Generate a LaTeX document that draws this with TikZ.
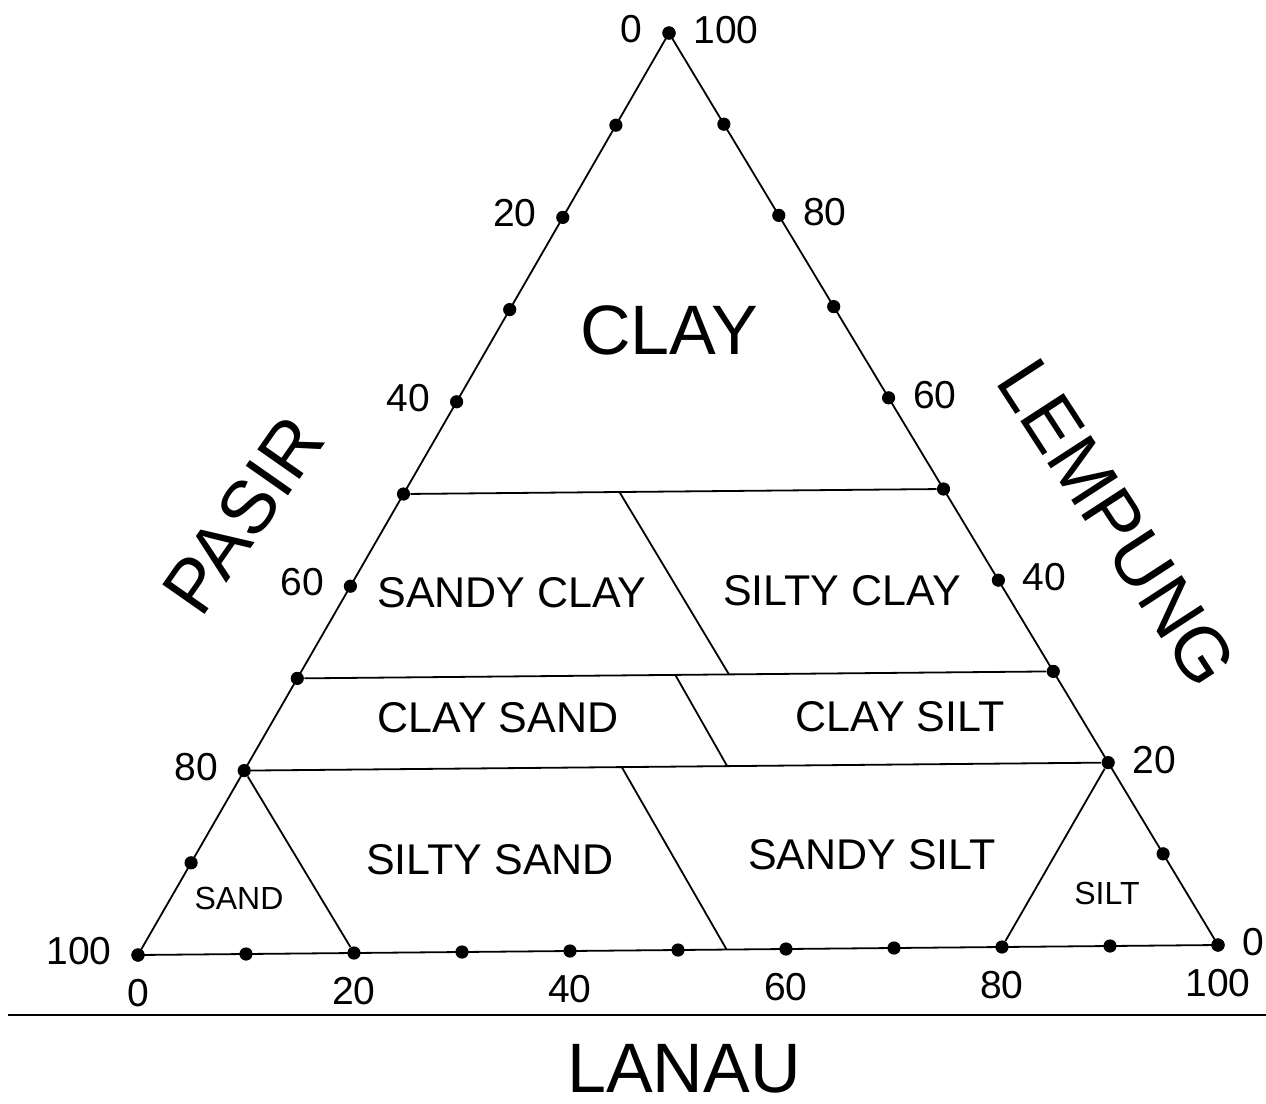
\documentclass[tikz,border=0pt]{standalone}
\usepackage{fontspec}
\setmainfont{Liberation Sans}
\usetikzlibrary{calc, positioning}

\begin{document}
\begin{tikzpicture}[x=0.5pt, y=-0.5pt,
		edge/.style={line width=0.9pt},
		dot/.style={circle, fill=black, inner sep=0pt, minimum size=6.6pt},
		tick/.style={inner sep=0pt, font=\fontsize{19.5}{22}\selectfont},
		zone/.style={inner sep=0pt, font=\fontsize{21.5}{24}\selectfont},
		small/.style={inner sep=0pt, font=\fontsize{16}{18}\selectfont},
		big/.style={inner sep=0pt, font=\fontsize{35}{40}\selectfont},
		axis/.style={inner sep=0pt, font=\fontsize{37.5}{42}\selectfont}]
	\useasboundingbox (0,0) rectangle (1266,1104);
	% corners of the triangle
	\coordinate (T) at (669,33);
	\coordinate (L) at (138,955);
	\coordinate (R) at (1218,945);
	\draw[edge] (T) -- (L) -- (R) -- cycle;
	% dots on the three sides
	\foreach \i in {0,...,10}{
		\node[dot] (a\i) at ($(T)!\i/10!(L)$) {};
		\node[dot] (b\i) at ($(T)!\i/10!(R)$) {};
		\node[dot] (c\i) at ($(L)!\i/10!(R)$) {};
	}
	% scale numbers
	\foreach \i/\lab in {0/0, 2/20, 4/40, 6/60, 8/80, 10/100}{
		\node[tick, left=9.5pt of a\i, yshift=2pt] (la\i) {\lab};
		\node[tick, below=8.5pt of c\i] (lc\i) {\lab};
	}
	\foreach \i/\lab in {0/100, 2/80, 4/60, 6/40, 8/20, 10/0}{
		\node[tick, right=8.5pt of b\i, yshift=1.5pt] (lb\i) {\lab};
	}
	% class boundaries
	\foreach \i in {5,7,8}{\draw[edge] (a\i) -- (b\i);}
	\coordinate (s1) at ($(a5)!0.40!(b5)$);
	\coordinate (s2) at ($(a7)!0.571!(b7)$);
	\coordinate (m1) at ($(a7)!0.5!(b7)$);
	\coordinate (m2) at ($(a8)!0.559!(b8)$);
	\coordinate (d1) at ($(a8)!0.437!(b8)$);
	\coordinate (d2) at ($(c0)!0.545!(c10)$);
	\draw[edge] (s1) -- (s2); \draw[edge] (m1) -- (m2); \draw[edge] (d1) -- (d2);
	\draw[edge] (a8) -- (c2); \draw[edge] (b8) -- (c8);
	% class names
	\node[big] (clay) at (669,330) {CLAY};
	\node[zone] (sandyclay) at (512,593) {SANDY CLAY};
	\node[zone] (siltyclay) at (842,591) {SILTY CLAY};
	\node[zone] (claysand) at (498,718) {CLAY SAND};
	\node[zone] (claysilt) at (900,717) {CLAY SILT};
	\node[zone] (siltysand) at (490,860) {SILTY SAND};
	\node[zone] (sandysilt) at (872,855) {SANDY SILT};
	\node[small] (sand) at (239,898) {SAND};
	\node[small] (silt) at (1107,893) {SILT};
	% axis names
	\node[axis, rotate=55] (pasir) at (243,515) {PASIR};
	\node[axis, rotate=-57] (lempung) at (1117,523) {LEMPUNG};
	\coordinate (rule1) at (8,1015);
	\coordinate (rule2) at (1266,1015);
	\draw[line width=0.7pt] (rule1) -- (rule2);
	\node[big] (lanau) at (684,1069) {LANAU};
\end{tikzpicture}
\end{document}
